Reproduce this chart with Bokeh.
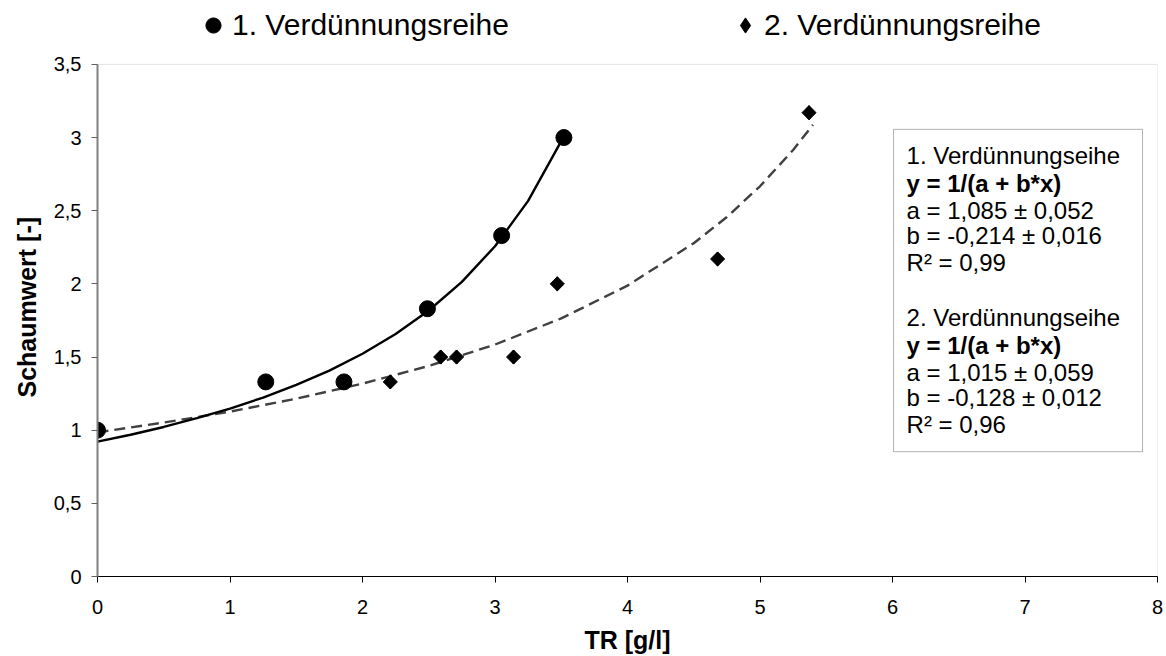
import math
from bokeh.plotting import figure
from bokeh.models import (Legend, LegendItem, BoxAnnotation, Label, Title,
                          FixedTicker, CustomJSTickFormatter)
from bokeh.embed import file_html
from bokeh.resources import INLINE

# ---- data ----
s1_x = [0.0, 1.27, 1.86, 2.49, 3.05, 3.52]
s1_y = [1.0, 1.33, 1.33, 1.83, 2.33, 3.0]
s2_x = [2.21, 2.59, 2.71, 3.14, 3.47, 4.68, 5.37]
s2_y = [1.33, 1.5, 1.5, 1.5, 2.0, 2.17, 3.17]

fit1_x = [0, 0.25, 0.5, 0.75, 1.0, 1.25, 1.5, 1.75, 2.0, 2.25, 2.5, 2.75, 3.0, 3.25, 3.5, 3.52]
fit1_y = [0.922, 0.969, 1.022, 1.082, 1.148, 1.223, 1.309, 1.407, 1.522, 1.657, 1.818,
          2.014, 2.257, 2.567, 2.976, 3.015]
fit2_x = [0, 0.5, 1.0, 1.5, 2.0, 2.5, 3.0, 3.5, 4.0, 4.5, 4.75, 5.0, 5.25, 5.4]
fit2_y = [0.985, 1.052, 1.127, 1.215, 1.318, 1.439, 1.585, 1.764, 1.988, 2.278,
          2.457, 2.667, 2.915, 3.088]

x_ticks = [0, 1, 2, 3, 4, 5, 6, 7, 8]
y_ticks = [0, 0.5, 1, 1.5, 2, 2.5, 3, 3.5]
series_labels = ["1. Verdünnungsreihe", "2. Verdünnungsreihe"]
x_title = "TR [g/l]"
y_title = "Schaumwert [-]"
box_text = ["1. Verdünnungseihe", "y = 1/(a + b*x)", "a = 1,085 ± 0,052",
            "b = -0,214 ± 0,016", "R² = 0,99",
            "2. Verdünnungseihe", "y = 1/(a + b*x)", "a = 1,015 ± 0,059",
            "b = -0,128 ± 0,012", "R² = 0,96"]
box_bold = [False, True, False, False, False, False, True, False, False, False]

FONT = "Liberation Sans"
Y_MAX = 3.5
Y_VIEW_TOP = Y_MAX * 577.0 / 513.0   # frame reaches up to the top of the canvas

p = figure(width=1166, height=656, x_range=(0, 8), y_range=(0, Y_VIEW_TOP),
           output_backend="svg", toolbar_location=None,
           min_border_left=97, min_border_right=9, min_border_top=0,
           min_border_bottom=79)
p.background_fill_color = "white"
p.border_fill_color = "white"
p.outline_line_color = None
p.grid.visible = False

# plot-area border (top / right in light grey)
p.add_layout(BoxAnnotation(left=0, right=8, bottom=0, top=Y_MAX,
                           fill_alpha=0, line_color="#a6a6a6", line_width=1,
                           level="underlay"))

# axes
p.xaxis.ticker = FixedTicker(ticks=x_ticks)
p.yaxis.ticker = FixedTicker(ticks=y_ticks)
p.yaxis.bounds = (0, Y_MAX)
p.xaxis.formatter = CustomJSTickFormatter(code="return tick.toString().replace('.', ',');")
p.yaxis.formatter = CustomJSTickFormatter(code="return tick.toString().replace('.', ',');")
for ax in (p.xaxis, p.yaxis):
    ax.minor_tick_line_color = None
    ax.major_tick_in = 0
    ax.major_tick_out = 6
    ax.major_label_text_font = FONT
    ax.major_label_text_font_size = "20px"
    ax.major_label_text_color = "black"
    ax.axis_label_text_font = FONT
    ax.axis_label_text_font_size = "25px"
    ax.axis_label_text_font_style = "bold"
    ax.axis_label_text_color = "black"
p.xaxis.axis_label = x_title
p.xaxis.axis_line_color = "black"
p.xaxis.major_tick_line_color = "black"
p.xaxis.major_label_standoff = 17
p.xaxis.axis_label_standoff = 9
p.yaxis.axis_line_color = "#808080"
p.yaxis.axis_line_width = 2
p.yaxis.major_tick_line_color = "#606060"
p.yaxis.major_label_standoff = 10

# y-axis title as a side title so it can sit where the reference has it
p.add_layout(Title(text=y_title, align="left", offset=179, text_font=FONT,
                   text_font_size="25px", text_font_style="bold",
                   text_color="black", standoff=19), "left")

# fit curves
r_fit2 = p.line(fit2_x, fit2_y, line_color="#404040", line_width=2.4, line_dash="11 6")
r_fit1 = p.line(fit1_x, fit1_y, line_color="black", line_width=2.4)

# data points (series 2: a diamond key glyph hidden under the drawn diamonds)
r2_key = p.scatter(s2_x, s2_y, marker="diamond", size=14,
                   fill_color="black", line_color="black")
r1 = p.scatter(s1_x, s1_y, marker="circle", size=16, fill_color="black", line_color="black")
r2 = p.scatter(s2_x, s2_y, marker="square", size=10, angle=math.pi / 4,
               fill_color="black", line_color="black")

# legend above the plot area
legend = Legend(items=[LegendItem(label=series_labels[0], renderers=[r1]),
                       LegendItem(label=series_labels[1], renderers=[r2_key])],
                orientation="horizontal", location=(97, 532),
                glyph_width=38, glyph_height=38, label_standoff=0,
                label_width=296, label_height=34, spacing=198,
                padding=0, margin=0, border_line_color=None,
                background_fill_alpha=0,
                label_text_font=FONT, label_text_font_size="30px",
                label_text_color="black", label_text_baseline="middle")
p.add_layout(legend, "center")

# annotation box
p.add_layout(BoxAnnotation(left=6.008, right=7.887, bottom=0.853, top=3.056,
                           fill_color="white", fill_alpha=1.0,
                           line_color="black", line_width=1, level="annotation"))
box_y = [2.879, 2.688, 2.503, 2.333, 2.149, 1.767, 1.576, 1.392, 1.221, 1.037]
for txt, bold, yy in zip(box_text, box_bold, box_y):
    p.add_layout(Label(x=6.106, y=yy, text=txt, text_font=FONT,
                       text_font_size="24px", text_baseline="middle",
                       text_font_style="bold" if bold else "normal",
                       text_color="black", level="annotation"))

open("out.html", "w").write(file_html(p, INLINE))
